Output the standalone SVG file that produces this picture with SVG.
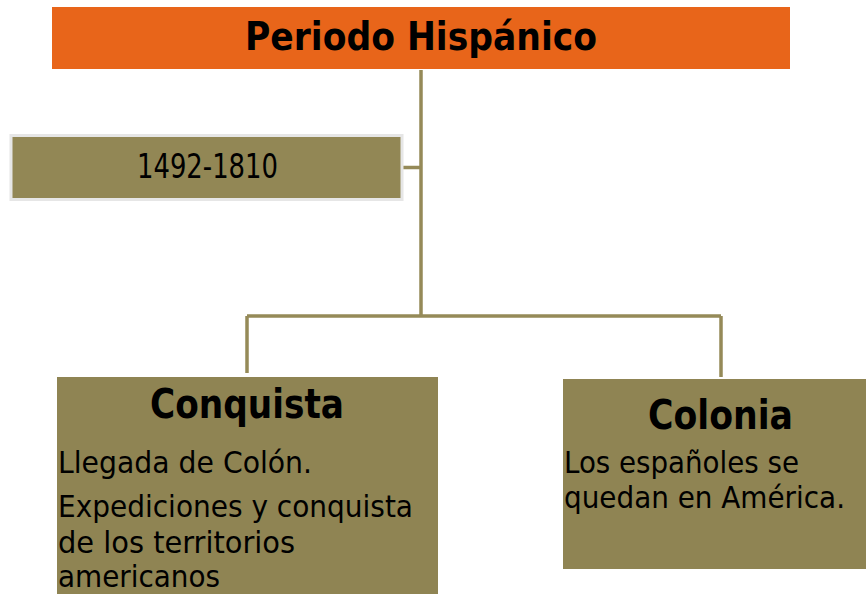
<svg xmlns="http://www.w3.org/2000/svg" width="866" height="594" viewBox="0 0 866 594">
<style>
text{font-family:"DejaVu Sans Condensed","DejaVu Sans",Verdana,sans-serif;fill:#000}
.t{font-weight:bold}
.b{font-size:31px}
.olive{fill:#8F8453}
.conn{fill:none;stroke:#958A58;stroke-width:3.5}
</style>
<rect width="866" height="594" fill="#fff"/>
<g id="connectors">
<path class="conn" d="M421 70V316M402 167.5H421M247 316H721M247 316V373M721 316V377"/>
</g>
<g id="title">
<rect x="52" y="7" width="738" height="62" fill="#E8651A"/>
<text class="t" x="421" y="50" font-size="39" text-anchor="middle" textLength="352" lengthAdjust="spacingAndGlyphs">Periodo Hispánico</text>
</g>
<g id="dates">
<rect x="11" y="135.5" width="391" height="64" fill="#928755" stroke="#E6E6E6" stroke-width="3"/>
<text x="207.5" y="177.5" font-size="33" text-anchor="middle" textLength="141" lengthAdjust="spacingAndGlyphs">1492-1810</text>
</g>
<g id="conquista">
<rect class="olive" x="57" y="377" width="381" height="217"/>
<text class="t" x="247" y="418" font-size="41" text-anchor="middle" textLength="194" lengthAdjust="spacingAndGlyphs">Conquista</text>
<text class="b" x="58" y="473" textLength="254" lengthAdjust="spacingAndGlyphs">Llegada de Colón.</text>
<text class="b" x="58" y="517" textLength="355" lengthAdjust="spacingAndGlyphs">Expediciones y conquista</text>
<text class="b" x="58" y="553" textLength="237" lengthAdjust="spacingAndGlyphs">de los territorios</text>
<text class="b" x="58" y="587" textLength="162" lengthAdjust="spacingAndGlyphs">americanos</text>
</g>
<g id="colonia">
<rect class="olive" x="563" y="379" width="303" height="190"/>
<text class="t" x="720.5" y="429" font-size="41" text-anchor="middle" textLength="145" lengthAdjust="spacingAndGlyphs">Colonia</text>
<text class="b" x="564" y="473" textLength="235" lengthAdjust="spacingAndGlyphs">Los españoles se</text>
<text class="b" x="564" y="508" textLength="281" lengthAdjust="spacingAndGlyphs">quedan en América.</text>
</g>
</svg>
